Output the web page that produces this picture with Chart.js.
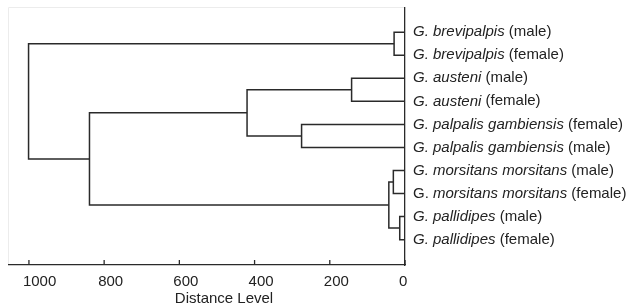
<html>
<head>
    <title>Dendrogram - Glossina</title>
    <script src="https://cdn.jsdelivr.net/npm/chart.js"></script>
    <style>
        body { margin: 0; background: #fff; }
        #wrap { width: 633px; height: 304px; }
    </style>
</head>
<body>
    <div id="wrap"><canvas id="dendro" width="633" height="304"></canvas></div>
    <script>
        // leaves, top to bottom
        const leafNames = ['G. brevipalpis', 'G. brevipalpis', 'G. austeni', 'G. austeni',
            'G. palpalis gambiensis', 'G. palpalis gambiensis', 'G. morsitans morsitans',
            'G. morsitans morsitans', 'G. pallidipes', 'G. pallidipes'];
        const leafSex = ['male', 'female', 'male', 'female', 'female', 'male', 'male', 'female', 'male', 'female'];
        const genusItalic = [true, true, true, true, true, true, true, false, true, true];

        // merges: node ids 0-9 are leaves, merge k makes node 10+k
        const mergeLeft = [0, 2, 4, 11, 6, 8, 14, 13, 10];
        const mergeRight = [1, 3, 5, 12, 7, 9, 15, 16, 17];
        const mergeHeight = [29, 142, 275, 420, 31, 14, 43, 839, 1001];

        const xTicks = [0, 200, 400, 600, 800, 1000];
        const xTitle = 'Distance Level';

        // work out y position (leaf index) and height of every node
        const nodeY = leafNames.map((n, i) => i + 1);
        const nodeH = leafNames.map(() => 0);
        const datasets = [];
        mergeLeft.forEach((a, k) => {
            const b = mergeRight[k];
            const h = mergeHeight[k];
            datasets.push({
                data: [
                    { x: nodeH[a], y: nodeY[a] },
                    { x: h, y: nodeY[a] },
                    { x: h, y: nodeY[b] },
                    { x: nodeH[b], y: nodeY[b] }
                ],
                showLine: true,
                borderColor: '#2a2a2a',
                borderWidth: 1.5,
                pointRadius: 0,
                fill: false,
                clip: false
            });
            nodeY.push((nodeY[a] + nodeY[b]) / 2);
            nodeH.push(h);
        });

        const font = 'Liberation Sans, Arial, sans-serif';
        Chart.defaults.font.family = font;
        Chart.defaults.font.size = 15;
        Chart.defaults.color = '#222';

        const extras = {
            id: 'extras',
            beforeDraw(chart) {
                const { ctx, chartArea } = chart;
                ctx.save();
                ctx.strokeStyle = '#ececec';
                ctx.lineWidth = 1;
                ctx.beginPath();
                ctx.moveTo(chartArea.left - 0.5, chartArea.bottom);
                ctx.lineTo(chartArea.left - 0.5, chartArea.top - 0.5);
                ctx.lineTo(chartArea.right, chartArea.top - 0.5);
                ctx.stroke();
                ctx.restore();
            },
            afterDraw(chart) {
                const { ctx, chartArea, scales } = chart;
                ctx.save();
                // inward tick marks on the distance axis
                ctx.strokeStyle = '#2a2a2a';
                ctx.lineWidth = 1.3;
                xTicks.forEach(v => {
                    const px = scales.x.getPixelForValue(v);
                    ctx.beginPath();
                    ctx.moveTo(px, chartArea.bottom);
                    ctx.lineTo(px, chartArea.bottom - 5);
                    ctx.stroke();
                });
                // axis title
                ctx.fillStyle = '#222';
                ctx.font = '15px ' + font;
                ctx.textAlign = 'center';
                ctx.textBaseline = 'alphabetic';
                ctx.fillText(xTitle, 224, 303);
                // leaf labels, species part in italics
                ctx.textAlign = 'left';
                ctx.textBaseline = 'middle';
                leafNames.forEach((name, i) => {
                    const py = scales.y.getPixelForValue(i + 1);
                    let px = chartArea.right + 8;
                    let parts;
                    if (genusItalic[i]) {
                        parts = [[name, true]];
                    } else {
                        parts = [['G. ', false], [name.slice(3), true]];
                    }
                    parts.push([' (' + leafSex[i] + ')', false]);
                    parts.forEach(([txt, it]) => {
                        ctx.font = (it ? 'italic ' : '') + '15px ' + font;
                        ctx.fillText(txt, px, py);
                        px += ctx.measureText(txt).width;
                    });
                });
                ctx.restore();
            }
        };

        new Chart(document.getElementById('dendro').getContext('2d'), {
            type: 'scatter',
            data: { datasets: datasets },
            plugins: [extras],
            options: {
                responsive: false,
                animation: false,
                layout: { padding: { left: 9, top: 8, right: 228, bottom: 5 } },
                plugins: { legend: { display: false }, tooltip: { enabled: false } },
                scales: {
                    x: {
                        type: 'linear',
                        min: 0,
                        max: 1053,
                        reverse: true,
                        afterBuildTicks: s => { s.ticks = xTicks.map(v => ({ value: v })); },
                        grid: { drawOnChartArea: false, drawTicks: false },
                        border: { display: true, color: '#2a2a2a', width: 1.3 },
                        ticks: { align: 'start', labelOffset: -6, padding: 8, color: '#222', callback: v => String(v) }
                    },
                    y: {
                        type: 'linear',
                        position: 'right',
                        min: -0.05,
                        max: 11.1,
                        reverse: true,
                        grid: { drawOnChartArea: false, drawTicks: false },
                        border: { display: true, color: '#2a2a2a', width: 1.3 },
                        ticks: { display: false }
                    }
                }
            }
        });
    </script>
</body>
</html>
